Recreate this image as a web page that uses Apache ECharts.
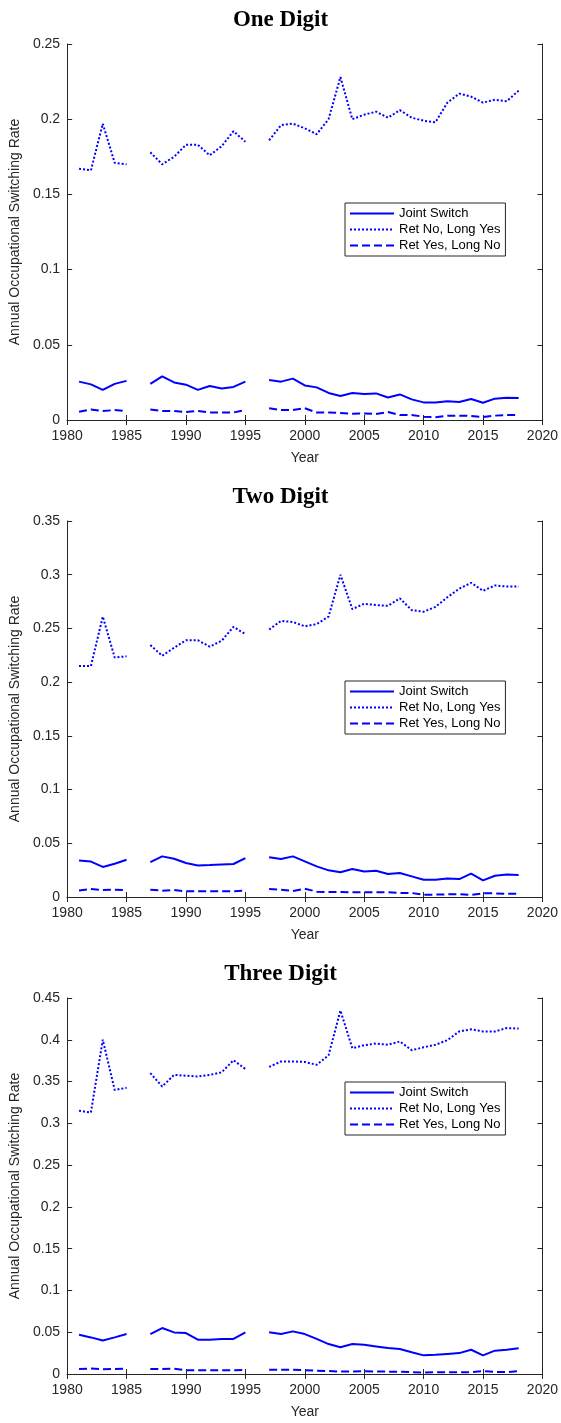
<!DOCTYPE html>
<html><head><meta charset="utf-8">
<script src="https://cdn.jsdelivr.net/npm/echarts@6/dist/echarts.min.js"></script>
<style>html,body{margin:0;padding:0;background:#fff}#c{width:561px;height:1423px}</style>
</head><body><div id="c"></div>
<script>
var years = [1981,1982,1983,1984,1985,1986,1987,1988,1989,1990,1991,1992,1993,1994,1995,1996,1997,1998,1999,2000,2001,2002,2003,2004,2005,2006,2007,2008,2009,2010,2011,2012,2013,2014,2015,2016,2017,2018];
var titles = ['One Digit','Two Digit','Three Digit'];
var names = ['Joint Switch','Ret No, Long Yes','Ret Yes, Long No'];

var joint1 = [0.0255,0.0237,0.020,0.024,0.026,null,0.024,0.029,0.025,0.0235,0.020,0.0226,0.021,0.022,0.0255,null,0.0266,0.0255,0.0275,0.023,0.0217,0.018,0.016,0.018,0.0173,0.0177,0.015,0.017,0.0137,0.0117,0.0117,0.0124,0.012,0.014,0.0115,0.0142,0.0148,0.0146];
var retNo1 = [0.167,0.166,0.197,0.171,0.170,null,0.178,0.170,0.175,0.183,0.183,0.176,0.182,0.192,0.185,null,0.186,0.196,0.197,0.194,0.190,0.200,0.228,0.200,0.203,0.205,0.201,0.206,0.201,0.199,0.198,0.211,0.217,0.215,0.211,0.213,0.212,0.219];
var retYes1 = [0.0055,0.007,0.006,0.0066,0.006,null,0.007,0.006,0.006,0.0053,0.006,0.005,0.005,0.005,0.0066,null,0.0078,0.0066,0.0066,0.0078,0.005,0.005,0.0047,0.0042,0.0044,0.004,0.0053,0.0033,0.0033,0.0022,0.0018,0.0029,0.0029,0.0027,0.002,0.0029,0.0033,0.0033];

var joint2 = [0.034,0.033,0.028,0.031,0.0347,null,0.0325,0.0378,0.0356,0.0316,0.0294,0.0297,0.0302,0.0307,0.0362,null,0.0369,0.0353,0.0378,0.0331,0.0285,0.0248,0.023,0.026,0.0238,0.0245,0.0214,0.0223,0.0192,0.016,0.016,0.0173,0.0167,0.0217,0.0155,0.0198,0.021,0.0204];
var retNo2 = [0.215,0.215,0.261,0.223,0.224,null,0.2345,0.2246,0.232,0.239,0.239,0.233,0.2385,0.2515,0.2447,null,0.249,0.257,0.256,0.252,0.254,0.261,0.300,0.268,0.273,0.2717,0.271,0.278,0.267,0.2655,0.270,0.279,0.287,0.2925,0.285,0.290,0.289,0.289];
var retYes2 = [0.006,0.0074,0.0065,0.0068,0.0065,null,0.0068,0.0059,0.0065,0.0053,0.0053,0.0053,0.0053,0.0053,0.0059,null,0.0074,0.0068,0.0056,0.0077,0.005,0.0046,0.0046,0.0044,0.0044,0.0044,0.0044,0.0037,0.0037,0.0022,0.0022,0.0025,0.0025,0.0019,0.0034,0.0034,0.003,0.003];

var joint3 = [0.047,0.0438,0.040,0.0438,0.0478,null,0.0478,0.055,0.0498,0.049,0.041,0.041,0.042,0.042,0.0498,null,0.050,0.0478,0.051,0.0478,0.042,0.0358,0.032,0.0358,0.035,0.033,0.031,0.030,0.026,0.0223,0.023,0.024,0.025,0.029,0.0223,0.0279,0.029,0.0307];
var retNo3 = [0.315,0.313,0.400,0.340,0.3425,null,0.360,0.344,0.358,0.357,0.356,0.358,0.361,0.3755,0.365,null,0.3675,0.374,0.374,0.3735,0.370,0.3815,0.435,0.390,0.3935,0.3955,0.394,0.398,0.3875,0.391,0.394,0.3995,0.410,0.4125,0.410,0.410,0.414,0.4135];
var retYes3 = [0.006,0.0065,0.0056,0.006,0.0062,null,0.006,0.006,0.0062,0.0045,0.0045,0.0045,0.0045,0.0045,0.0048,null,0.0052,0.005,0.005,0.0045,0.004,0.0035,0.003,0.003,0.0033,0.003,0.0028,0.0026,0.0022,0.0018,0.002,0.002,0.002,0.0022,0.0035,0.0025,0.0022,0.0035];

var yMax = [0.25,0.35,0.45];
var yTicks = [0.05,0.05,0.05];
var panels = [[joint1,retNo1,retYes1],[joint2,retNo2,retYes2],[joint3,retNo3,retYes3]];

var gridTop = [44,521,998];
var gridH = 376;
var legendTop = [203,681,1082];
var font = 'Liberation Sans, Arial, sans-serif';
var dash = ['solid','dotted','dashed'];

function pairs(arr){ return years.map(function(y,i){ return [y, arr[i]]; }); }

var option = {animation:false, title:[], grid:[], xAxis:[], yAxis:[], legend:[], series:[]};
panels.forEach(function(p,k){
  option.title.push({text:titles[k], left:'center', top:gridTop[k]-40, textStyle:{fontFamily:'Liberation Serif, Times New Roman, serif', fontWeight:'bold', fontSize:23, color:'#000'}});
  option.grid.push({left:67, width:478, top:gridTop[k], height:gridH});
  var ax = {type:'value', gridIndex:k, min:1980, max:2020, interval:5,
    axisLine:{show:true, lineStyle:{color:'#262626', width:1}},
    axisTick:{inside:true, length:5, lineStyle:{color:'#262626'}},
    splitLine:{show:false}};
  option.xAxis.push(Object.assign({}, ax, {position:'bottom', name:'Year', nameLocation:'middle', nameGap:31,
    nameTextStyle:{fontFamily:font, fontSize:14, color:'#262626'},
    axisLabel:{fontFamily:font, fontSize:14, color:'#262626', margin:9, formatter:function(v){return String(v);}}}));
  option.xAxis.push(Object.assign({}, ax, {position:'top', axisLabel:{show:false}}));
  var ay = {type:'value', gridIndex:k, min:0, max:yMax[k], interval:yTicks[k],
    axisLine:{show:true, lineStyle:{color:'#262626', width:1}},
    axisTick:{inside:true, length:5, lineStyle:{color:'#262626'}},
    splitLine:{show:false}};
  option.yAxis.push(Object.assign({}, ay, {position:'left', name:'Annual Occupational Switching Rate', nameLocation:'middle', nameGap:38,
    nameTextStyle:{fontFamily:font, fontSize:14, color:'#262626'},
    axisLabel:{fontFamily:font, fontSize:14, color:'#262626', margin:7, formatter:function(v){return v===0?'0':String(+v.toFixed(2));}}}));
  option.yAxis.push(Object.assign({}, ay, {position:'right', axisLabel:{show:false}}));
  option.legend.push({orient:'vertical', left:345, top:legendTop[k], data:names,
    backgroundColor:'#fff', borderColor:'#262626', borderWidth:1, padding:[4,5,4,4],
    itemGap:3, itemWidth:44, itemHeight:15, itemStyle:{opacity:0},
    textStyle:{fontFamily:font, fontSize:13, color:'#000'}});
  p.forEach(function(arr,s){
    option.series.push({type:'line', name:names[s], xAxisIndex:2*k, yAxisIndex:2*k,
      data:pairs(arr), symbol:'none', connectNulls:false,
      lineStyle:{color:'#0000ff', width:2, type:dash[s]}, itemStyle:{color:'#0000ff'}});
  });
});
var chart = echarts.init(document.getElementById('c'));
chart.setOption(option);
</script></body></html>
